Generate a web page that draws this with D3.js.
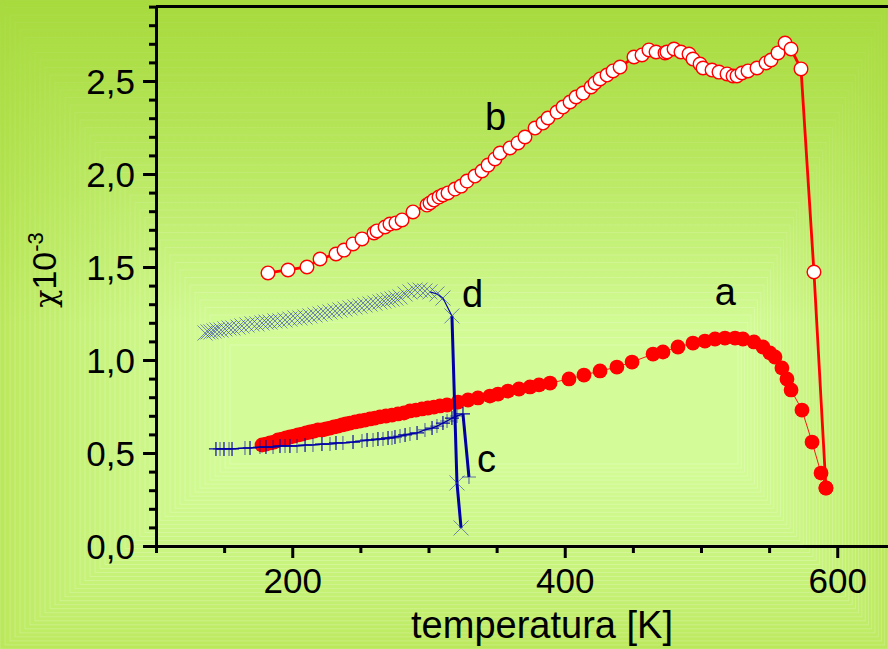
<!DOCTYPE html>
<html>
<head>
<meta charset="utf-8">
<script src="https://cdn.jsdelivr.net/npm/d3@7"></script>
<style>
  html, body { margin: 0; padding: 0; background: #b8e858; }
  svg { display: block; }
  text { font-family: "Liberation Sans", Arial, sans-serif; fill: #000; }
</style>
</head>
<body>
<svg id="chart" width="888" height="649"></svg>
<script>
// Magnetic susceptibility vs temperature, four samples (a–d)

// Sample a: filled circles
const aTemp = [177.8,180.7,183.7,186.6,189.5,192.5,195.4,198.3,201.3,204.2,207.2,210.1,213.0,216.0,218.9,221.8,224.8,227.7,230.6,233.6,236.5,239.4,242.4,246.1,249.7,253.4,257.1,260.7,264.4,268.8,273.2,277.6,282.0,286.4,290.8,295.2,299.6,304.0,308.4,313.6,321.7,329.0,336.3,345.1,351.0,358.3,366.4,374.5,381.1,389.2,403.1,414.1,425.9,438.3,449.4,464.8,472.1,483.1,494.1,502.9,510.3,517.6,525.0,530.8,538.9,545.5,550.6,554.3,559.4,563.1,566.1,574.1,581.5,588.1,591.7];
const aChi  = [0.543,0.548,0.554,0.559,0.570,0.575,0.581,0.586,0.591,0.597,0.602,0.608,0.613,0.618,0.624,0.624,0.629,0.634,0.640,0.645,0.651,0.656,0.661,0.667,0.672,0.677,0.683,0.688,0.694,0.699,0.704,0.710,0.715,0.726,0.731,0.737,0.742,0.747,0.753,0.758,0.774,0.785,0.796,0.806,0.817,0.833,0.844,0.855,0.866,0.876,0.898,0.919,0.941,0.962,0.989,1.032,1.043,1.070,1.091,1.102,1.113,1.118,1.118,1.113,1.097,1.070,1.038,1.016,0.957,0.898,0.839,0.731,0.559,0.392,0.312];

// Sample b: open circles
const bTemp = [182.2,196.9,210.8,220.4,232.1,238.0,244.6,251.2,260.0,262.2,268.1,271.7,276.1,280.6,288.6,298.9,301.1,304.0,307.7,310.6,314.3,319.4,323.9,328.3,334.1,339.3,343.7,348.8,352.5,359.8,365.7,370.8,378.2,384.0,387.7,394.3,398.7,403.9,408.3,413.4,419.3,422.2,425.9,431.0,435.4,440.6,450.8,456.7,461.8,467.0,473.6,475.0,480.2,485.3,491.2,494.1,499.3,501.5,508.1,513.2,519.1,523.5,526.4,530.1,534.5,541.1,547.7,551.4,556.5,561.7,566.1,573.4,582.9,591.7];
const bChi  = [1.468,1.484,1.500,1.543,1.570,1.591,1.624,1.651,1.683,1.694,1.715,1.731,1.737,1.753,1.796,1.833,1.844,1.860,1.876,1.887,1.898,1.919,1.935,1.962,1.989,2.016,2.048,2.081,2.113,2.140,2.167,2.199,2.247,2.274,2.301,2.333,2.360,2.387,2.414,2.435,2.468,2.489,2.511,2.532,2.554,2.575,2.629,2.640,2.667,2.656,2.651,2.656,2.672,2.656,2.645,2.618,2.591,2.570,2.559,2.548,2.538,2.527,2.527,2.543,2.554,2.570,2.597,2.613,2.651,2.704,2.672,2.565,1.473,0.312];

// Sample c: plus markers
const cTemp = [144.0,147.0,149.9,153.6,155.8,165.3,169.0,176.3,180.7,185.9,191.0,194.7,198.3,203.5,209.4,215.2,221.8,227.7,232.1,237.2,244.6,251.2,254.9,259.3,262.9,266.6,270.3,273.2,275.4,279.1,282.8,286.4,291.6,297.4,302.6,306.2,310.6,313.6,317.2,320.9,325.3,329.7];
const cChi  = [0.522,0.522,0.522,0.522,0.522,0.527,0.527,0.532,0.532,0.532,0.538,0.538,0.538,0.538,0.543,0.543,0.548,0.548,0.554,0.554,0.559,0.565,0.570,0.570,0.575,0.575,0.581,0.581,0.586,0.591,0.597,0.602,0.608,0.624,0.634,0.645,0.661,0.672,0.688,0.699,0.710,0.371];

// Sample d: cross markers
const dTemp = [136.0,138.2,140.4,142.6,144.8,147.7,150.6,153.6,156.5,160.2,163.1,166.8,170.5,174.1,177.8,180.7,183.7,187.3,191.0,194.7,198.3,202.0,205.7,209.4,213.0,216.7,220.4,224.0,227.7,231.4,235.0,238.7,242.4,246.1,249.7,253.4,257.1,260.7,264.4,267.3,270.3,273.2,276.1,279.1,282.8,286.4,290.1,293.8,297.4,301.1,306.2,310.6,317.2,320.9,323.9];
const dChi  = [1.145,1.151,1.151,1.156,1.161,1.161,1.167,1.172,1.172,1.177,1.183,1.188,1.194,1.194,1.199,1.204,1.204,1.210,1.210,1.215,1.220,1.226,1.226,1.231,1.237,1.242,1.247,1.253,1.258,1.263,1.269,1.274,1.280,1.285,1.290,1.296,1.301,1.306,1.312,1.317,1.323,1.328,1.333,1.339,1.355,1.366,1.376,1.376,1.371,1.366,1.355,1.333,1.237,0.339,0.097];

// Axis ticks
const xMajorTicks = [200, 400, 600];
const xMinorTicks = [100, 150, 250, 300, 350, 450, 500, 550, 650];
const yMajorTicks = [0.0, 0.5, 1.0, 1.5, 2.0, 2.5];
const yMinorTicks = [0.1,0.2,0.3,0.4,0.6,0.7,0.8,0.9,1.1,1.2,1.3,1.4,1.6,1.7,1.8,1.9,2.1,2.2,2.3,2.4,2.6,2.7,2.8,2.9];

// Curve labels (temperature, chi)
const curveNames = ["a", "b", "c", "d"];
const curveLabelT = [510, 341.5, 335.6, 324.6];
const curveLabelChi = [1.296, 2.237, 0.398, 1.285];

const W = 888, H = 649;
const svg = d3.select("#chart");

// ---- background: rectangular gradient, lighter toward the lower middle,
//      darker along the top edge
const defs = svg.append("defs");
const topShade = defs.append("linearGradient").attr("id", "topShade")
  .attr("x1", 0).attr("y1", 0).attr("x2", 0).attr("y2", 1);
topShade.append("stop").attr("offset", 0).attr("stop-color", "#a4d838").attr("stop-opacity", 0.85);
topShade.append("stop").attr("offset", 0.5).attr("stop-color", "#a4d838").attr("stop-opacity", 0);

const bg = svg.append("g");
const nBands = 46;
const bandColor = d3.interpolateRgb("#bae85a", "#d3fc98");
for (let i = 0; i <= nBands; i++) {
  const t = i / nBands;
  const x0 = t * 230, x1 = W - t * 150;
  const y0 = t * 345, y1 = H - t * 185;
  bg.append("rect")
    .attr("x", x0).attr("y", y0)
    .attr("width", Math.max(0, x1 - x0)).attr("height", Math.max(0, y1 - y0))
    .attr("fill", bandColor(Math.pow(t, 0.7)))
    .attr("stroke", "rgba(255,255,255,0.25)")
    .attr("stroke-width", 0.8);
}
bg.append("rect").attr("width", W).attr("height", H).attr("fill", "url(#topShade)");

// ---- scales
const x = d3.scaleLinear().domain([100, 650]).range([156, 156 + 550 * 1.3625]);
const y = d3.scaleLinear().domain([0, 2.9]).range([546, 546 - 2.9 * 186]);

const zip = (ts, vs) => ts.map((t, i) => [t, vs[i]]);
const A = zip(aTemp, aChi), B = zip(bTemp, bChi), C = zip(cTemp, cChi), D = zip(dTemp, dChi);
const line = d3.line().x(d => x(d[0])).y(d => y(d[1]));

// ---- sample b (open circles, red line)
svg.append("path").datum(B).attr("d", line)
  .attr("fill", "none").attr("stroke", "#ff0000").attr("stroke-width", 2.8);
svg.append("g").selectAll("circle").data(B).join("circle")
  .attr("cx", d => x(d[0])).attr("cy", d => y(d[1])).attr("r", 6.8)
  .attr("fill", "#ffffff").attr("stroke", "#ff0000").attr("stroke-width", 1.4);

// ---- sample a (filled circles, thin line)
svg.append("path").datum(A).attr("d", line)
  .attr("fill", "none").attr("stroke", "#ff0000").attr("stroke-width", 0.9);
svg.append("g").selectAll("circle").data(A).join("circle")
  .attr("cx", d => x(d[0])).attr("cy", d => y(d[1])).attr("r", 7.4)
  .attr("fill", "#ff0000");

// ---- sample c (plus markers)
svg.append("path").datum(C.slice(0, -1)).attr("d", line)
  .attr("fill", "none").attr("stroke", "#0000a0").attr("stroke-width", 1.4);
svg.append("path").datum(C.slice(-2)).attr("d", line)
  .attr("fill", "none").attr("stroke", "#0000a0").attr("stroke-width", 3);
svg.append("g").selectAll("path").data(C).join("path")
  .attr("transform", d => `translate(${x(d[0])},${y(d[1])})`)
  .attr("d", "M-7,0H7M0,-7V7")
  .attr("fill", "none").attr("stroke", "#0000a8").attr("stroke-width", 1.2)
  .attr("stroke-opacity", (d, i) => (i % 2 ? 0.55 : 0.95));

// ---- sample d (cross markers)
svg.append("path").datum(D.slice(-6, -2)).attr("d", line)
  .attr("fill", "none").attr("stroke", "#0000a0").attr("stroke-width", 1.2);
svg.append("path").datum(D.slice(-3)).attr("d", line)
  .attr("fill", "none").attr("stroke", "#0000a8").attr("stroke-width", 3);
svg.append("g").selectAll("path").data(D).join("path")
  .attr("transform", d => `translate(${x(d[0])},${y(d[1])})`)
  .attr("d", "M-7.5,-7.5L7.5,7.5M-7.5,7.5L7.5,-7.5")
  .attr("fill", "none").attr("stroke", "#2838b8").attr("stroke-width", 1)
  .attr("stroke-opacity", 0.6);

// ---- curve labels
svg.append("g").selectAll("text").data(curveNames).join("text")
  .attr("x", (d, i) => x(curveLabelT[i]))
  .attr("y", (d, i) => y(curveLabelChi[i]))
  .attr("font-size", 38)
  .text(d => d);

// ---- axes
const axes = svg.append("g");
function styleAxis(g) {
  g.selectAll("path.domain").attr("stroke", "#000").attr("stroke-width", 3);
  g.selectAll(".tick line").attr("stroke", "#000").attr("stroke-width", 3);
  g.selectAll(".tick text").attr("font-family", "Liberation Sans, Arial, sans-serif").attr("fill", "#000");
}

// top frame line
axes.append("line")
  .attr("x1", 156).attr("x2", W).attr("y1", y(2.9)).attr("y2", y(2.9))
  .attr("stroke", "#000").attr("stroke-width", 3);

const yMinor = axes.append("g").attr("transform", "translate(156,0)")
  .call(d3.axisLeft(y).tickValues(yMinorTicks).tickSize(7).tickSizeOuter(0).tickFormat(""));
yMinor.select("path.domain").remove();
styleAxis(yMinor);

const yMajor = axes.append("g").attr("transform", "translate(156,0)")
  .call(d3.axisLeft(y).tickValues(yMajorTicks).tickSize(13).tickSizeOuter(0).tickPadding(8)
    .tickFormat(d => d3.format(".1f")(d).replace(".", ",")));
styleAxis(yMajor);
yMajor.selectAll(".tick text").attr("font-size", 35).attr("dy", "0.36em");

const xMinor = axes.append("g").attr("transform", "translate(0,546)")
  .call(d3.axisBottom(x).tickValues(xMinorTicks).tickSize(7).tickSizeOuter(0).tickFormat(""));
xMinor.select("path.domain").remove();
styleAxis(xMinor);

const xMajor = axes.append("g").attr("transform", "translate(0,546)")
  .call(d3.axisBottom(x).tickValues(xMajorTicks).tickSize(12).tickSizeOuter(0).tickPadding(10)
    .tickFormat(d3.format("d")));
styleAxis(xMajor);
xMajor.selectAll(".tick text").attr("font-size", 35).attr("y", 47).attr("dy", 0);

// ---- axis titles
svg.append("text")
  .attr("x", 542).attr("y", 638)
  .attr("text-anchor", "middle").attr("font-size", 38)
  .text("temperatura [K]");

const yTitle = svg.append("text")
  .attr("transform", "translate(56,270) rotate(-90)")
  .attr("text-anchor", "middle").attr("font-size", 34);
yTitle.append("tspan").attr("font-family", "DejaVu Serif, serif").attr("font-size", 30).text("χ");
yTitle.append("tspan").text("10");
yTitle.append("tspan").attr("font-size", 22).attr("dy", -13).text("-3");
</script>
</body>
</html>
